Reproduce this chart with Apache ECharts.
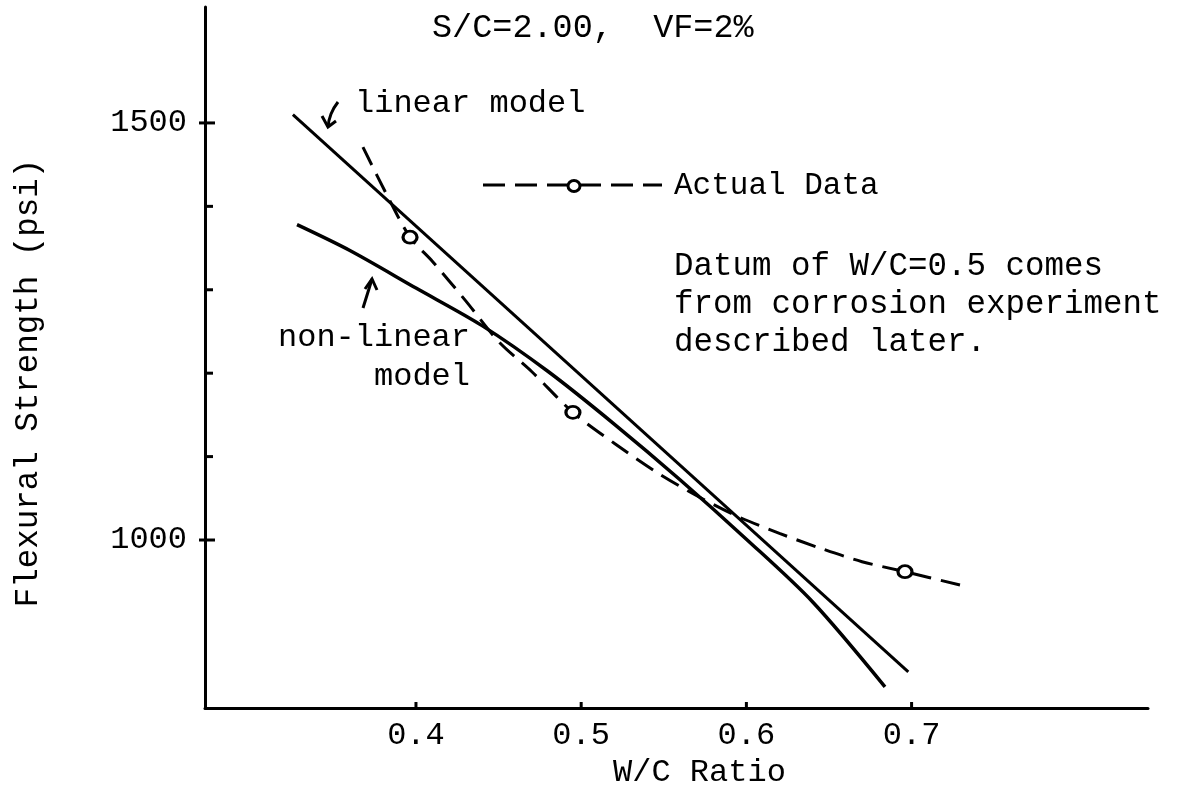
<!DOCTYPE html>
<html><head><meta charset="utf-8">
<script src="https://cdn.jsdelivr.net/npm/echarts@6/dist/echarts.min.js"></script>
<style>html,body{margin:0;padding:0;background:#fff}#c{width:1199px;height:794px}</style>
</head><body><div id="c"></div>
<script>
// ---- data ----
const linearX = [0.3255, 0.698];
const linearY = [1510, 842];

const nonlinearX = [0.328, 0.36, 0.40, 0.44, 0.48, 0.52, 0.56, 0.60, 0.64, 0.6839];
const nonlinearY = [1378, 1347, 1302, 1257, 1202, 1139, 1072, 1001, 926, 824];

const actualCurveX = [0.3679, 0.3831, 0.3964, 0.41, 0.43, 0.45, 0.47, 0.495, 0.52, 0.545, 0.57, 0.595, 0.62, 0.645, 0.67, 0.696, 0.7293];
const actualCurveY = [1471, 1411, 1363, 1334, 1287, 1238, 1202, 1153, 1116, 1082, 1053, 1028, 1008, 990, 974, 962, 946];

const actualPointX = [0.3964, 0.495, 0.696];
const actualPointY = [1363, 1153, 962];

const xTickValues = [0.4, 0.5, 0.6, 0.7];
const xTickLabels = ['0.4', '0.5', '0.6', '0.7'];
const yMajorTickValues = [1000, 1500];
const yTickLabels = ['1000', '1500'];
const yMinorTickValues = [1100, 1200, 1300, 1400];

const XMIN = 0.2723, XMAX = 0.8431;
const YMIN = 798.6, YMAX = 1639;

const FONT = '"Liberation Mono", "DejaVu Sans Mono", monospace';
const f = s => s + 'px ' + FONT;
const zip = (a, b) => a.map((v, i) => [v, b[i]]);

const chart = echarts.init(document.getElementById('c'), null, {renderer: 'canvas'});

function xTickRender(params, api) {
  const p = api.coord([api.value(0), api.value(1)]);
  return {type: 'group', children: [
    {type: 'line', shape: {x1: p[0], y1: p[1], x2: p[0], y2: p[1] - 6}, style: {stroke: '#000', lineWidth: 3}},
    {type: 'text', x: p[0], y: p[1] + 28, style: {text: xTickLabels[params.dataIndex], textAlign: 'center', verticalAlign: 'middle', font: f(32), fill: '#000'}}
  ]};
}
function yMajorRender(params, api) {
  const p = api.coord([api.value(0), api.value(1)]);
  return {type: 'group', children: [
    {type: 'line', shape: {x1: p[0] - 6, y1: p[1], x2: p[0] + 10, y2: p[1]}, style: {stroke: '#000', lineWidth: 3}},
    {type: 'text', x: p[0] - 18, y: p[1], style: {text: yTickLabels[params.dataIndex], textAlign: 'right', verticalAlign: 'middle', font: f(32), fill: '#000'}}
  ]};
}
function yMinorRender(params, api) {
  const p = api.coord([api.value(0), api.value(1)]);
  return {type: 'line', shape: {x1: p[0], y1: p[1], x2: p[0] + 8, y2: p[1]}, style: {stroke: '#000', lineWidth: 3}};
}

const option = {
  backgroundColor: '#fff',
  animation: false,
  grid: {left: 205, top: 7, right: 51, bottom: 86, containLabel: false},
  xAxis: {
    type: 'value', min: XMIN, max: XMAX,
    axisLine: {show: true, onZero: false, lineStyle: {color: '#000', width: 3}},
    axisTick: {show: false}, axisLabel: {show: false}, splitLine: {show: false}
  },
  yAxis: {
    type: 'value', min: YMIN, max: YMAX,
    axisLine: {show: true, onZero: false, lineStyle: {color: '#000', width: 3}},
    axisTick: {show: false}, axisLabel: {show: false}, splitLine: {show: false}
  },
  series: [
    {name: 'linear model', type: 'line', data: zip(linearX, linearY), showSymbol: false, symbol: 'none',
     lineStyle: {color: '#000', width: 3}},
    {name: 'non-linear model', type: 'line', data: zip(nonlinearX, nonlinearY), showSymbol: false, symbol: 'none',
     smooth: 0.3, lineStyle: {color: '#000', width: 3.5}},
    {name: 'Actual Data curve', type: 'line', data: zip(actualCurveX, actualCurveY), showSymbol: false, symbol: 'none',
     smooth: 0.3, lineStyle: {color: '#000', width: 3, type: [20, 10]}},
    {name: 'Actual Data', type: 'scatter', data: zip(actualPointX, actualPointY), symbol: 'circle', symbolSize: [14, 12],
     itemStyle: {color: '#fff', borderColor: '#000', borderWidth: 3, opacity: 1}, z: 5},
    {type: 'custom', data: xTickValues.map(v => [v, YMIN]), renderItem: xTickRender, z: 6, silent: true},
    {type: 'custom', data: yMajorTickValues.map(v => [XMIN, v]), renderItem: yMajorRender, z: 6, silent: true},
    {type: 'custom', data: yMinorTickValues.map(v => [XMIN, v]), renderItem: yMinorRender, z: 6, silent: true}
  ],
  graphic: [
    {type: 'text', x: 432, y: 28, style: {text: 'S/C=2.00,  VF=2%', font: f(33.5), fill: '#000', textAlign: 'left', verticalAlign: 'middle'}},
    {type: 'text', x: 355, y: 104, style: {text: 'linear model', font: f(32), fill: '#000', textAlign: 'left', verticalAlign: 'middle'}},
    {type: 'text', x: 470, y: 338, style: {text: 'non-linear', font: f(32), fill: '#000', textAlign: 'right', verticalAlign: 'middle'}},
    {type: 'text', x: 470, y: 377, style: {text: 'model', font: f(32), fill: '#000', textAlign: 'right', verticalAlign: 'middle'}},
    {type: 'text', x: 674, y: 186, style: {text: 'Actual Data', font: f(31), fill: '#000', textAlign: 'left', verticalAlign: 'middle'}},
    {type: 'text', x: 674, y: 266, style: {text: 'Datum of W/C=0.5 comes', font: f(32.5), fill: '#000', textAlign: 'left', verticalAlign: 'middle'}},
    {type: 'text', x: 674, y: 304, style: {text: 'from corrosion experiment', font: f(32.5), fill: '#000', textAlign: 'left', verticalAlign: 'middle'}},
    {type: 'text', x: 674, y: 342, style: {text: 'described later.', font: f(32.5), fill: '#000', textAlign: 'left', verticalAlign: 'middle'}},
    {type: 'text', x: 613, y: 773, style: {text: 'W/C Ratio', font: f(32), fill: '#000', textAlign: 'left', verticalAlign: 'middle'}},
    {type: 'text', x: 28, y: 383, rotation: Math.PI / 2, style: {text: 'Flexural Strength (psi)', font: f(32.5), fill: '#000', textAlign: 'center', verticalAlign: 'middle'}},
    // legend sample
    {type: 'line', shape: {x1: 483, y1: 185, x2: 662, y2: 185}, style: {stroke: '#000', lineWidth: 3, lineDash: [22, 10]}},
    {type: 'ellipse', shape: {cx: 574, cy: 186, rx: 6, ry: 5.5}, style: {fill: '#fff', stroke: '#000', lineWidth: 3}, z: 10},
    // arrows
    {type: 'polyline', shape: {points: [[338, 102], [331, 114], [328, 127]], smooth: 0.5}, style: {stroke: '#000', lineWidth: 3, fill: null}},
    {type: 'polyline', shape: {points: [[322, 116], [328, 127], [336, 121]]}, style: {stroke: '#000', lineWidth: 3, fill: null}},
    {type: 'polyline', shape: {points: [[363, 308], [368, 292], [372, 279]], smooth: 0.5}, style: {stroke: '#000', lineWidth: 3, fill: null}},
    {type: 'polyline', shape: {points: [[365, 289], [372, 279], [377, 290]]}, style: {stroke: '#000', lineWidth: 3, fill: null}}
  ]
};
chart.setOption(option);
</script>
</body></html>
